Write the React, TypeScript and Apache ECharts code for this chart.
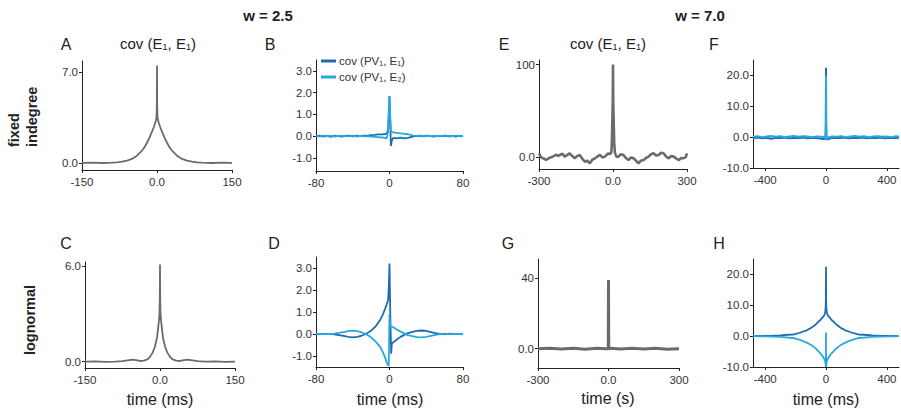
import React, { useEffect, useRef } from "react";
import * as echarts from "echarts";

const GRAY = "#6b6b6b";
const DARK = "#1e6cb2";
const LIGHT = "#29a8e0";
const FONT = "'Liberation Sans', Arial, Helvetica, sans-serif";

const NAME_EE = "cov (E₁, E₁)";
const NAME_PV1 = "cov (PV₁, E₁)";
const NAME_PV2 = "cov (PV₁, E₂)";

// Panel A: fixed indegree, w = 2.5, cov(E1,E1)
const panelA: [number, number][] = [[-150,0.0],[-130,0.02],[-110,-0.01],[-90,0.02],[-80,0.04],[-70,0.1],[-60,0.18],[-50,0.3],[-40,0.55],[-30,0.95],[-25,1.2],[-20,1.55],[-15,1.95],[-10,2.4],[-6,2.8],[-3,3.15],[-1,3.5],[-0.3,4.5],[0,7.5],[0.3,4.5],[1,3.5],[3,3.15],[6,2.8],[10,2.4],[15,1.95],[20,1.55],[25,1.2],[30,0.95],[40,0.55],[50,0.3],[60,0.18],[70,0.1],[80,0.04],[90,0.02],[110,-0.01],[130,0.02],[150,0.0]];

// Panel C: lognormal, w = 2.5, cov(E1,E1)
const panelC: [number, number][] = [[-150,0],[-130,0.01],[-110,-0.01],[-90,0.0],[-75,0.03],[-65,0.08],[-55,0.12],[-48,0.1],[-40,0.04],[-32,0.06],[-25,0.15],[-20,0.3],[-15,0.55],[-10,0.95],[-6,1.5],[-3,2.3],[-1,3.0],[-0.3,4.2],[0,6.1],[0.3,4.2],[1,3.0],[3,2.3],[6,1.5],[10,0.95],[15,0.55],[20,0.3],[25,0.15],[32,0.06],[40,0.04],[48,0.1],[55,0.12],[65,0.08],[75,0.03],[90,0.0],[110,0.01],[130,-0.01],[150,0]];

// Panel B: fixed indegree, w = 2.5
const panelBPv1E1: [number, number][] = [[-80,0],[-76,0.02],[-72,-0.02],[-68,0.01],[-64,-0.03],[-60,0.02],[-56,0],[-52,-0.02],[-48,0.01],[-44,0.03],[-40,-0.01],[-36,0.02],[-32,0],[-28,0.03],[-24,0.02],[-20,0.05],[-16,0.06],[-12,0.08],[-8,0.08],[-5,0.1],[-3,0.12],[-1.5,0.3],[-0.5,1.2],[0,1.85],[0.7,0.8],[1.5,-0.45],[2.5,-0.2],[4,-0.08],[8,-0.1],[12,-0.07],[16,-0.1],[20,-0.08],[24,-0.03],[28,0],[32,0.02],[36,-0.01],[40,0.02],[44,0],[48,-0.02],[52,0.01],[56,0],[60,0.02],[64,-0.01],[68,0.01],[72,-0.02],[76,0.01],[80,0]];
const panelBPv1E2: [number, number][] = [[-80,0.01],[-76,-0.02],[-72,0.02],[-68,0],[-64,0.03],[-60,-0.02],[-56,0.01],[-52,0.03],[-48,-0.01],[-44,0],[-40,0.02],[-36,-0.02],[-32,0.01],[-28,-0.01],[-24,0],[-20,-0.02],[-16,-0.03],[-12,-0.04],[-8,-0.06],[-5,-0.08],[-3,-0.1],[-1.5,0.2],[-0.7,1.4],[0,1.8],[0.6,1.2],[1.5,0.25],[3,0.18],[6,0.16],[10,0.14],[14,0.12],[18,0.1],[22,0.07],[26,0.03],[30,0.01],[34,0.02],[38,-0.01],[42,0.02],[46,0],[50,0.03],[54,-0.01],[58,0.01],[62,0.02],[66,-0.02],[70,0.01],[74,0.02],[78,-0.01],[80,0.01]];

// Panel D: lognormal, w = 2.5
const panelDPv1E1: [number, number][] = [[-80,0],[-75,0.01],[-70,-0.01],[-65,0.01],[-60,-0.02],[-55,-0.05],[-50,-0.09],[-45,-0.13],[-40,-0.15],[-35,-0.13],[-30,-0.07],[-25,0.02],[-20,0.15],[-15,0.35],[-10,0.65],[-7,0.92],[-5,1.12],[-3,1.35],[-1.5,1.55],[-0.7,2.2],[0,3.2],[0.8,1.0],[1.8,-0.9],[2.5,-0.45],[4,-0.38],[6,-0.32],[9,-0.22],[12,-0.13],[16,-0.04],[20,0.04],[25,0.1],[30,0.14],[35,0.16],[40,0.14],[45,0.09],[50,0.04],[55,0.01],[60,-0.02],[65,0.02],[70,0],[75,-0.01],[80,0]];
const panelDPv1E2: [number, number][] = [[-80,0],[-75,-0.01],[-70,0.01],[-65,0],[-60,0.02],[-55,0.05],[-50,0.09],[-45,0.13],[-40,0.15],[-35,0.13],[-30,0.07],[-25,-0.02],[-20,-0.15],[-15,-0.35],[-10,-0.6],[-7,-0.85],[-5,-1.05],[-3,-1.3],[-1.5,-1.42],[-0.8,-1.45],[-0.3,0.2],[0,0.88],[0.5,0.4],[1.5,0.35],[3,0.33],[5,0.28],[8,0.2],[12,0.11],[16,0.03],[20,-0.05],[25,-0.1],[30,-0.14],[35,-0.15],[40,-0.13],[45,-0.08],[50,-0.04],[55,-0.01],[60,0.02],[65,-0.01],[70,0.01],[75,0],[80,0]];

// Panel E: fixed indegree, w = 7.0, cov(E1,E1)
const panelE: [number, number][] = [[-300,4],[-292,0],[-285,-1.4],[-278,-2],[-271,-3.3],[-258,-1],[-244,0.4],[-237,1.5],[-230,2.5],[-223,1],[-216,2.2],[-205,3.5],[-196,0.4],[-186,2],[-176,4],[-165,1],[-155,-1.4],[-145,1],[-135,2.2],[-124,-2],[-114,-5.1],[-104,-4],[-94,-6.9],[-84,-3],[-73,-1.4],[-63,0.5],[-53,2.2],[-43,-0.5],[-33,0.4],[-25,2.5],[-19,4],[-12,3],[-7,5],[-5,12],[-3,35],[-1,60],[0,100],[1,60],[3,35],[5,15],[8,4],[15,0],[22,0.4],[32,3],[42,2.2],[52,-1],[63,-3.3],[73,-0.5],[83,-1.4],[93,-4],[103,-6.9],[113,-4],[124,-3.3],[134,-1],[144,0.4],[154,3],[164,4],[175,1.5],[185,2.2],[195,4.5],[205,4],[215,0.5],[226,-1.4],[236,1],[246,0.4],[256,-1.5],[267,-3.3],[277,-1],[287,-1.4],[295,0],[300,4]];

// Panel F: fixed indegree, w = 7.0
const panelFPv1E1: [number, number][] = [[-480,-0.3],[-450,-0.1],[-420,-0.4],[-390,-0.2],[-360,-0.5],[-330,-0.2],[-300,-0.3],[-270,-0.1],[-240,-0.4],[-210,-0.2],[-180,-0.3],[-150,-0.1],[-120,-0.4],[-90,-0.2],[-60,-0.3],[-30,-0.5],[-10,-0.6],[-3,-0.4],[-1,5],[0,22.5],[1,5],[3,-0.6],[10,-0.7],[30,-0.4],[60,-0.2],[90,-0.3],[120,-0.1],[150,-0.4],[180,-0.2],[210,-0.3],[240,-0.1],[270,-0.4],[300,-0.2],[330,-0.3],[360,-0.1],[390,-0.4],[420,-0.2],[450,-0.3],[480,-0.2]];
const panelFPv1E2: [number, number][] = [[-480,0.1],[-450,0.3],[-420,0],[-390,0.2],[-360,0.4],[-330,0.1],[-300,0.3],[-270,0],[-240,0.2],[-210,0.4],[-180,0.1],[-150,0.3],[-120,0.2],[-90,0],[-60,0.2],[-30,0.1],[-10,0],[-3,-0.2],[-1,4],[0,20],[1,4],[3,-1.0],[8,-0.3],[20,0],[40,0.2],[70,0.1],[100,0.3],[130,0],[160,0.2],[190,0.4],[220,0.1],[250,0.3],[280,0],[310,0.2],[340,0.3],[370,0.1],[400,0.2],[430,0],[460,0.3],[480,0.1]];

// Panel G: lognormal, w = 7.0, cov(E1,E1)
const panelG: [number, number][] = [[-300,0],[-250,0.3],[-200,-0.2],[-150,0.2],[-100,-0.3],[-50,0.2],[-10,0],[-1,0],[0,39],[1,0],[10,0.2],[50,-0.2],[100,0.3],[150,-0.2],[200,0.2],[250,-0.3],[300,0]];

// Panel H: lognormal, w = 7.0
const panelHPv1E1: [number, number][] = [[-480,0],[-440,0.05],[-400,0.1],[-350,0.15],[-300,0.25],[-250,0.45],[-217,0.5],[-200,0.7],[-171,1.1],[-150,1.5],[-127,1.9],[-100,2.6],[-83,3.2],[-65,3.9],[-52,4.6],[-40,5.1],[-28,5.8],[-18,6.3],[-10,6.9],[-5,7.8],[-2,9.5],[-1,12],[0,22.5],[1,12],[2,9.5],[5,7.8],[10,6.9],[18,6.3],[28,5.8],[40,5.1],[52,4.6],[65,3.9],[83,3.2],[100,2.6],[127,1.9],[150,1.5],[171,1.1],[200,0.7],[217,0.5],[250,0.45],[300,0.25],[350,0.15],[400,0.1],[440,0.05],[480,0]];
const panelHPv1E2: [number, number][] = [[-480,0],[-440,-0.05],[-400,-0.1],[-350,-0.15],[-300,-0.25],[-250,-0.45],[-217,-0.6],[-200,-0.8],[-171,-1.2],[-150,-1.6],[-127,-2.1],[-100,-2.8],[-83,-3.4],[-65,-4.1],[-52,-4.8],[-40,-5.4],[-28,-6.1],[-18,-6.8],[-10,-7.5],[-5,-8.3],[-2,-9.2],[-0.5,-10],[0,1.2],[0.5,-10],[2,-9.2],[5,-8.3],[10,-7.5],[18,-6.8],[28,-6.1],[40,-5.4],[52,-4.8],[65,-4.1],[83,-3.4],[100,-2.8],[127,-2.1],[150,-1.6],[171,-1.2],[200,-0.8],[217,-0.6],[250,-0.45],[300,-0.25],[350,-0.15],[400,-0.1],[440,-0.05],[480,0]];

// Tick values and labels
const xTicks150 = [-150, 0, 150];
const xLabels150 = ["-150", "0.0", "150"];
const xTicks80 = [-80, 0, 80];
const xLabels80 = ["-80", "0", "80"];
const xTicks300 = [-300, 0, 300];
const xLabels300 = ["-300", "0.0", "300"];
const xTicks400 = [-400, 0, 400];
const xLabels400 = ["-400", "0", "400"];
const yTicksA = [0, 7];
const yLabelsA = ["0.0", "7.0"];
const yTicksBD = [-1, 0, 1, 2, 3];
const yLabelsBD = ["-1.0", "0.0", "1.0", "2.0", "3.0"];
const yTicksC = [0, 6];
const yLabelsC = ["0.0", "6.0"];
const yTicksE = [0, 100];
const yLabelsE = ["0.0", "100"];
const yTicksFH = [-10, 0, 10, 20];
const yLabelsFH = ["-10.0", "0.0", "10.0", "20.0"];
const yTicksG = [0, 40];
const yLabelsG = ["0.0", "40"];

type PanelDef = {
  box: [number, number, number, number];
  x: [number, number];
  y: [number, number];
  xt: number[]; xl: string[];
  yt: number[]; yl: string[];
};

const panels: PanelDef[] = [
  { box: [82, 61, 150, 109], x: [-150, 150], y: [-0.55, 7.85], xt: xTicks150, xl: xLabels150, yt: yTicksA, yl: yLabelsA },
  { box: [316, 60, 147, 111], x: [-80, 80], y: [-1.6, 3.5], xt: xTicks80, xl: xLabels80, yt: yTicksBD, yl: yLabelsBD },
  { box: [539, 60, 148, 109], x: [-300, 300], y: [-13, 105], xt: xTicks300, xl: xLabels300, yt: yTicksE, yl: yLabelsE },
  { box: [753, 60, 146, 108], x: [-480, 480], y: [-10, 25], xt: xTicks400, xl: xLabels400, yt: yTicksFH, yl: yLabelsFH },
  { box: [85, 262, 150, 106], x: [-150, 150], y: [-0.4, 6.25], xt: xTicks150, xl: xLabels150, yt: yTicksC, yl: yLabelsC },
  { box: [316, 257, 147, 110], x: [-80, 80], y: [-1.5, 3.5], xt: xTicks80, xl: xLabels80, yt: yTicksBD, yl: yLabelsBD },
  { box: [538, 259, 141, 109], x: [-300, 300], y: [-11, 51], xt: xTicks300, xl: xLabels300, yt: yTicksG, yl: yLabelsG },
  { box: [753, 259, 146, 108], x: [-480, 480], y: [-10, 25], xt: xTicks400, xl: xLabels400, yt: yTicksFH, yl: yLabelsFH },
];

const AXIS_COLOR = "#222";
const LABEL_COLOR = "#333";

function lineSeries(name: string, idx: number, data: [number, number][], color: string, width: number) {
  return {
    type: "line",
    name,
    xAxisIndex: idx,
    yAxisIndex: idx,
    data,
    color,
    showSymbol: false,
    symbol: "none",
    lineStyle: { color, width },
    z: 2,
  };
}

function txt(text: string, x: number, y: number, size: number, opts: any = {}) {
  return {
    type: "text",
    x,
    y,
    rotation: opts.rotation || 0,
    style: {
      text,
      fontSize: size,
      fontFamily: FONT,
      fontWeight: opts.bold ? "bold" : "normal",
      fill: opts.color || "#222",
      textAlign: opts.align || "center",
      textVerticalAlign: "middle",
    },
  };
}

export default function App() {
  const ref = useRef<HTMLDivElement>(null);
  useEffect(() => {
    if (!ref.current) return;
    const chart = echarts.init(ref.current, undefined, { renderer: "svg" });
    const grid = panels.map((p) => ({ left: p.box[0], top: p.box[1], width: p.box[2], height: p.box[3], containLabel: false }));
    const xAxis = panels.map((p, i) => ({
      type: "value",
      gridIndex: i,
      min: p.x[0],
      max: p.x[1],
      splitLine: { show: false },
      axisLine: { show: true, onZero: false, lineStyle: { color: AXIS_COLOR, width: 1 } },
      axisTick: { show: true, customValues: p.xt, length: 3, lineStyle: { color: AXIS_COLOR } },
      axisLabel: {
        customValues: p.xt,
        formatter: (v: number) => { const k = p.xt.indexOf(v); return k >= 0 ? p.xl[k] : ""; },
        fontSize: 11.5, fontFamily: FONT, color: LABEL_COLOR, margin: 6,
      },
    }));
    const yAxis = panels.map((p, i) => ({
      type: "value",
      gridIndex: i,
      min: p.y[0],
      max: p.y[1],
      splitLine: { show: false },
      axisLine: { show: true, onZero: false, lineStyle: { color: AXIS_COLOR, width: 1 } },
      axisTick: { show: true, customValues: p.yt, length: 3, lineStyle: { color: AXIS_COLOR } },
      axisLabel: {
        customValues: p.yt,
        formatter: (v: number) => { const k = p.yt.indexOf(v); return k >= 0 ? p.yl[k] : ""; },
        fontSize: 11.5, fontFamily: FONT, color: LABEL_COLOR, margin: 4,
      },
    }));
    const series = [
      lineSeries(NAME_EE, 0, panelA, GRAY, 1.8),
      lineSeries(NAME_PV1, 1, panelBPv1E1, DARK, 1.8),
      lineSeries(NAME_PV2, 1, panelBPv1E2, LIGHT, 1.8),
      lineSeries(NAME_EE, 2, panelE, GRAY, 2.6),
      lineSeries(NAME_PV1, 3, panelFPv1E1, DARK, 2),
      lineSeries(NAME_PV2, 3, panelFPv1E2, LIGHT, 2),
      lineSeries(NAME_EE, 4, panelC, GRAY, 1.8),
      lineSeries(NAME_PV1, 5, panelDPv1E1, DARK, 1.8),
      lineSeries(NAME_PV2, 5, panelDPv1E2, LIGHT, 1.8),
      lineSeries(NAME_EE, 6, panelG, GRAY, 3),
      lineSeries(NAME_PV1, 7, panelHPv1E1, DARK, 1.8),
      lineSeries(NAME_PV2, 7, panelHPv1E2, LIGHT, 1.8),
    ];
    const graphic = [
      txt("w = 2.5", 268, 15, 15, { bold: true }),
      txt("w = 7.0", 700, 15, 15, { bold: true }),
      txt("A", 66, 44, 16),
      txt("B", 270, 44, 16),
      txt("E", 504, 44, 16),
      txt("F", 714, 44, 16),
      txt("C", 66, 243, 16),
      txt("D", 274, 243, 16),
      txt("G", 508, 243, 16),
      txt("H", 719, 243, 16),
      txt(NAME_EE, 158, 43, 15),
      txt(NAME_EE, 608, 43, 15),
      txt("fixed", 14, 147, 14.5, { bold: true, rotation: Math.PI / 2, align: "left" }),
      txt("indegree", 32, 147, 14.5, { bold: true, rotation: Math.PI / 2, align: "left" }),
      txt("lognormal", 30, 320, 14.5, { bold: true, rotation: Math.PI / 2 }),
      txt("time (ms)", 160, 399, 16),
      txt("time (ms)", 390, 399, 16),
      txt("time (s)", 608, 398, 16),
      txt("time (ms)", 826, 399, 16),
    ];
    chart.setOption({
      animation: false,
      backgroundColor: "#fff",
      textStyle: { fontFamily: FONT },
      grid,
      xAxis,
      yAxis,
      series,
      legend: {
        show: true,
        orient: "vertical",
        left: 321,
        top: 55,
        icon: "rect",
        itemWidth: 15,
        itemHeight: 3,
        itemGap: 4,
        data: [NAME_PV1, NAME_PV2],
        textStyle: { fontSize: 11.5, fontFamily: FONT, color: LABEL_COLOR, padding: [0, 0, 0, -2] },
        padding: 0,
      },
      graphic,
    });
    return () => chart.dispose();
  }, []);
  return <div ref={ref} style={{ position: "absolute", left: 0, top: 0, width: 901, height: 410 }} />;
}
